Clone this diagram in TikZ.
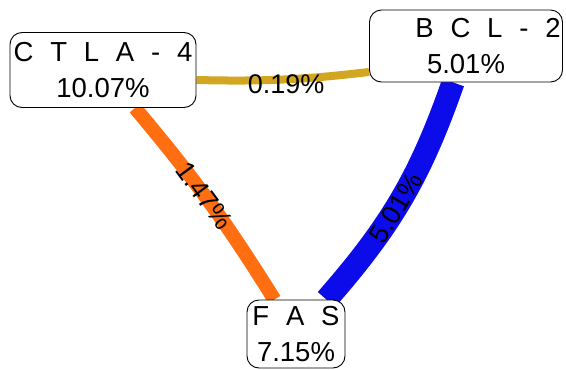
\documentclass[tikz,border=0pt]{standalone}
\usepackage{fontspec}
\setmainfont{Liberation Sans}
\newfontfamily\genefont[WordSpace=2.2]{Liberation Sans}
\usepackage{tikz}
\usetikzlibrary{backgrounds}
\definecolor{linkgold}{RGB}{210,166,32}
\definecolor{linkorange}{RGB}{255,110,16}
\definecolor{linkblue}{RGB}{12,12,235}

\begin{document}
\begin{tikzpicture}[
    x=1pt, y=-1pt,
    gene/.style={draw, rounded corners=12pt, fill=white, align=center,
                 inner sep=0pt, line width=0.9pt,
                 font=\genefont\fontsize{27.5}{36}\selectfont},
    link/.style={line cap=butt},
    pct/.style={font=\fontsize{27}{30}\selectfont, inner sep=0pt}
  ]
  \useasboundingbox (0,0) rectangle (566,370);

  % Nodes
  \node[gene, minimum width=186pt, minimum height=75pt] (ctla) at (103,70)
       {C T L A - 4\\10.07\%};
  \node[gene, minimum width=193pt, minimum height=72pt] (bcl)  at (466,46)
       {\hspace*{44pt}B C L - 2\\5.01\%};
  \node[gene, minimum width=98pt, minimum height=68pt]  (fas)  at (296,334)
       {F A S\\7.15\%};

  % Links
  \begin{scope}[on background layer]
    \draw[link, linkgold, line width=8pt] (ctla.east) ++(0,10) coordinate (ce)
         (ce) to[bend right=4]
         node[pos=0.52, below=-9pt, pct, text=black]{0.19\%}
         (bcl.west |- 0,72);
    \draw[link, linkorange, line width=14pt] (ctla) to[bend left=4]
         node[pos=0.47, sloped, pct, text=black]{1.47\%}
         (fas);
    \draw[link, linkblue, line width=23pt] (bcl) to[bend left=11]
         node[pos=0.55, sloped, pct, text=black]{5.01\%}
         (fas);
  \end{scope}
\end{tikzpicture}
\end{document}
